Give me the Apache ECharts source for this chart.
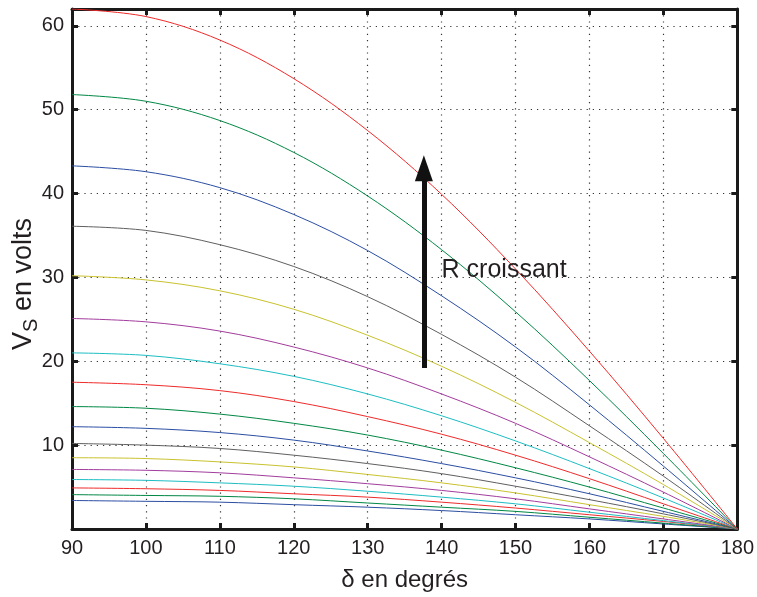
<!DOCTYPE html>
<html>
<head>
<meta charset="utf-8">
<script src="https://cdn.jsdelivr.net/npm/echarts@6/dist/echarts.min.js"></script>
<style>html,body{margin:0;padding:0;background:#fff}#c{width:757px;height:597px}</style>
</head>
<body>
<div id="c"></div>
<script>
// delta (degrees)
const delta = [90, 100, 110, 120, 130, 140, 150, 160, 170, 180];
// V_S curves, from lowest R to highest R
const v01 = [3.4, 3.3, 3.2, 2.9, 2.6, 2.2, 1.7, 1.2, 0.6, 0];
const v02 = [4.1, 4.0, 3.9, 3.6, 3.1, 2.6, 2.1, 1.4, 0.7, 0];
const v03 = [4.9, 4.8, 4.6, 4.2, 3.8, 3.2, 2.5, 1.7, 0.9, 0];
const v04 = [5.9, 5.8, 5.5, 5.1, 4.5, 3.8, 3.0, 2.0, 1.0, 0];
const v05 = [7.1, 7.0, 6.7, 6.1, 5.4, 4.6, 3.6, 2.4, 1.2, 0];
const v06 = [8.5, 8.4, 8.0, 7.4, 6.5, 5.5, 4.3, 2.9, 1.5, 0];
const v07 = [10.2, 10.0, 9.6, 8.8, 7.8, 6.6, 5.1, 3.5, 1.8, 0];
const v08 = [12.2, 12.0, 11.5, 10.6, 9.3, 7.8, 6.1, 4.2, 2.1, 0];
const v09 = [14.6, 14.4, 13.7, 12.6, 11.2, 9.4, 7.3, 5.0, 2.5, 0];
const v10 = [17.5, 17.2, 16.5, 15.2, 13.4, 11.3, 8.8, 6.0, 3.0, 0];
const v11 = [21.0, 20.7, 19.7, 18.2, 16.1, 13.5, 10.5, 7.2, 3.7, 0];
const v12 = [25.1, 24.7, 23.6, 21.7, 19.2, 16.1, 12.6, 8.6, 4.4, 0];
const v13 = [30.2, 29.7, 28.4, 26.2, 23.1, 19.4, 15.1, 10.3, 5.3, 0];
const v14 = [36.1, 35.6, 33.9, 31.3, 27.7, 23.2, 18.1, 12.3, 6.3, 0];
const v15 = [43.3, 42.6, 40.7, 37.5, 33.2, 27.8, 21.7, 14.8, 7.5, 0];
const v16 = [51.8, 51.0, 48.7, 44.9, 39.7, 33.3, 25.9, 17.7, 9.0, 0];
const v17 = [62.0, 61.1, 58.3, 53.7, 47.5, 39.9, 31.0, 21.2, 10.8, 0];
const curves = [v01, v02, v03, v04, v05, v06, v07, v08, v09, v10, v11, v12, v13, v14, v15, v16, v17];
const xTicks = [90, 100, 110, 120, 130, 140, 150, 160, 170, 180];
const yTicks = [10, 20, 30, 40, 50, 60];
// arrow annotation (data coords) and label
const arrowX = 137.6, arrowY0 = 19.2, arrowY1 = 43.0;
const noteText = 'R croissant', noteX = 140.0, noteY = 30.9;

const palette = ['#2b4ea2', '#008744', '#ee2a2a', '#1dbdc2', '#a23d9d', '#c8c22e', '#5f5f5f'];
const font = 'Liberation Sans, Arial, Helvetica, sans-serif';
const txt = '#231f20';

const series = curves.map((vals, i) => ({
  type: 'line',
  data: delta.map((d, k) => [d, vals[k]]),
  smooth: 0.35,
  showSymbol: false,
  symbol: 'none',
  lineStyle: { width: 1, color: palette[i % 7] },
  z: 3,
  silent: true
}));
series.push({
  type: 'line', data: [], silent: true,
  markLine: {
    silent: true, symbol: ['none', 'triangle'], symbolSize: [18, 26],
    label: { show: false },
    lineStyle: { color: '#111', width: 5, type: 'solid' },
    data: [[{ coord: [arrowX, arrowY0] }, { coord: [arrowX, arrowY1] }]]
  },
  z: 5
});

const chart = echarts.init(document.getElementById('c'), null, { renderer: 'canvas' });
const axisLine = { show: true, onZero: false, lineStyle: { color: '#1a1a1a', width: 3 } };
const tick = { show: true, inside: true, length: 6, lineStyle: { color: '#1a1a1a', width: 3 } };
const gridLine = { show: true, lineStyle: { color: '#333', width: 1.2, type: [1.2, 5] } };
chart.setOption({
  animation: false,
  backgroundColor: '#fff',
  grid: { left: 72, right: 18, top: 9, bottom: 64, containLabel: false },
  xAxis: [{
    type: 'value', min: xTicks[0], max: xTicks[xTicks.length - 1], interval: 10,
    axisLine, axisTick: tick, splitLine: gridLine,
    axisLabel: { color: txt, fontSize: 20, fontFamily: font, margin: 9 },
    name: 'δ en degrés', nameLocation: 'middle', nameGap: 39,
    nameTextStyle: { color: txt, fontSize: 24, fontFamily: font }
  }, {
    type: 'value', position: 'top', min: xTicks[0], max: xTicks[xTicks.length - 1], interval: 10,
    axisLine, axisTick: tick, splitLine: { show: false }, axisLabel: { show: false }
  }],
  yAxis: [{
    type: 'value', min: 0, max: 62, interval: 10,
    axisLine, axisTick: tick, splitLine: gridLine,
    axisLabel: {
      color: txt, fontSize: 20, fontFamily: font, margin: 8,
      showMinLabel: false, showMaxLabel: false,
      formatter: v => (yTicks.indexOf(v) >= 0 ? String(v) : '')
    }
  }, {
    type: 'value', position: 'right', min: 0, max: 62, interval: 10,
    axisLine, axisTick: tick, splitLine: { show: false }, axisLabel: { show: false }
  }],
  series
});

const np = chart.convertToPixel({ xAxisIndex: 0, yAxisIndex: 0 }, [noteX, noteY]);
chart.setOption({
  graphic: [{
    type: 'text', x: np[0], y: np[1], z: 10,
    style: { text: noteText, fill: txt, font: '25px ' + font, verticalAlign: 'middle' }
  }, {
    type: 'text', x: 24, y: 284, rotation: Math.PI / 2, z: 10,
    style: {
      text: '{v|V}{s|S}{v| en volts}',
      align: 'center', verticalAlign: 'middle',
      rich: {
        v: { fontSize: 27, fontFamily: font, fill: txt, color: txt },
        s: { fontSize: 20, fontFamily: font, fill: txt, color: txt, padding: [15, 0, 0, 0] }
      }
    }
  }]
});
</script>
</body>
</html>
